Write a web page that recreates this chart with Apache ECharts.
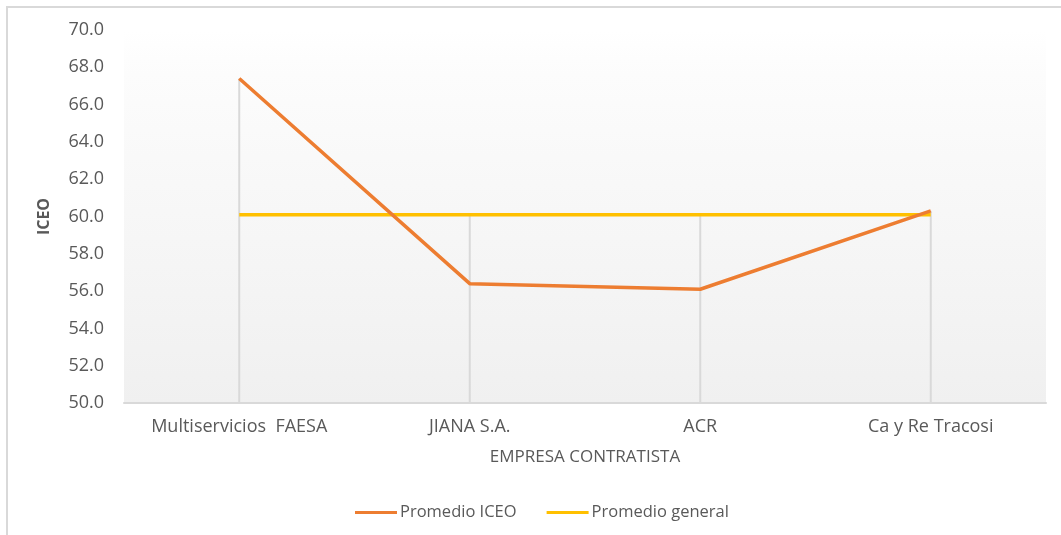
<!DOCTYPE html>
<html>
<head>
<meta charset="utf-8">
<script src="https://cdn.jsdelivr.net/npm/echarts@6/dist/echarts.min.js"></script>
<style>
  html, body { margin: 0; padding: 0; background: #fff; }
  #main { width: 1061px; height: 535px; }
</style>
</head>
<body>
<div id="main"></div>
<script>
// datos del grafico
var empresas = ['Multiservicios  FAESA', 'JIANA S.A.', 'ACR', 'Ca y Re Tracosi'];
var promedioIceo = [67.4, 56.4, 56.1, 60.3];
var promedioGeneral = [60.1, 60.1, 60.1, 60.1];
var yTicks = { min: 50, max: 70, interval: 2 };

// lineas de caida: desde el punto mas alto hasta el eje
var dropLines = promedioIceo.map(function (v, i) { return Math.max(v, promedioGeneral[i]); });

var textColor = '#595959';
var font = 'Open Sans';

var myChart = echarts.init(document.getElementById('main'));
myChart.setOption({
  animation: false,
  backgroundColor: '#fff',
  graphic: [{
    type: 'rect',
    shape: { x: 7, y: 7, width: 1100, height: 600 },
    style: { fill: 'none', stroke: '#d9d9d9', lineWidth: 2 },
    silent: true
  }],
  grid: {
    left: 124, right: 15, top: 30, bottom: 132,
    show: true, borderWidth: 0,
    backgroundColor: new echarts.graphic.LinearGradient(0, 0, 0, 1, [
      { offset: 0, color: '#ffffff' },
      { offset: 0.12, color: '#fcfcfc' },
      { offset: 1, color: '#f0f0f0' }
    ])
  },
  legend: {
    bottom: 9,
    left: 350,
    itemWidth: 42, itemHeight: 3, itemGap: 30,
    icon: 'rect',
    data: ['Promedio ICEO', 'Promedio general'],
    textStyle: { color: textColor, fontSize: 16.5, fontFamily: font, padding: [0, 0, 0, -2] }
  },
  xAxis: {
    type: 'category',
    data: empresas,
    name: 'EMPRESA CONTRATISTA',
    nameLocation: 'middle',
    nameGap: 46,
    nameTextStyle: { color: textColor, fontSize: 17, fontFamily: font },
    axisLine: { lineStyle: { color: '#d9d9d9', width: 2 } },
    axisTick: { show: false },
    axisLabel: { color: textColor, fontSize: 18, fontFamily: font, margin: 15 },
    splitLine: { show: false }
  },
  yAxis: {
    type: 'value',
    min: yTicks.min, max: yTicks.max, interval: yTicks.interval,
    name: 'ICEO',
    nameLocation: 'middle',
    nameGap: 72,
    nameTextStyle: { color: textColor, fontSize: 16, fontFamily: font, fontWeight: 'bold' },
    axisLine: { show: false },
    axisTick: { show: false },
    splitLine: { show: false },
    axisLabel: {
      color: textColor, fontSize: 18, fontFamily: font, margin: 20,
      formatter: function (v) { return v.toFixed(1); }
    }
  },
  series: [
    {
      name: 'drop',
      type: 'bar',
      data: dropLines,
      barWidth: 2,
      itemStyle: { color: '#d9d9d9' },
      silent: true,
      z: 1
    },
    {
      name: 'Promedio ICEO',
      type: 'line',
      data: promedioIceo,
      showSymbol: false,
      symbol: 'none',
      lineStyle: { color: '#ED7D31', width: 3.5 },
      itemStyle: { color: '#ED7D31' },
      z: 3
    },
    {
      name: 'Promedio general',
      type: 'line',
      data: promedioGeneral,
      showSymbol: false,
      symbol: 'none',
      lineStyle: { color: '#FFC000', width: 3.5 },
      itemStyle: { color: '#FFC000' },
      z: 2
    }
  ]
});
</script>
</body>
</html>
